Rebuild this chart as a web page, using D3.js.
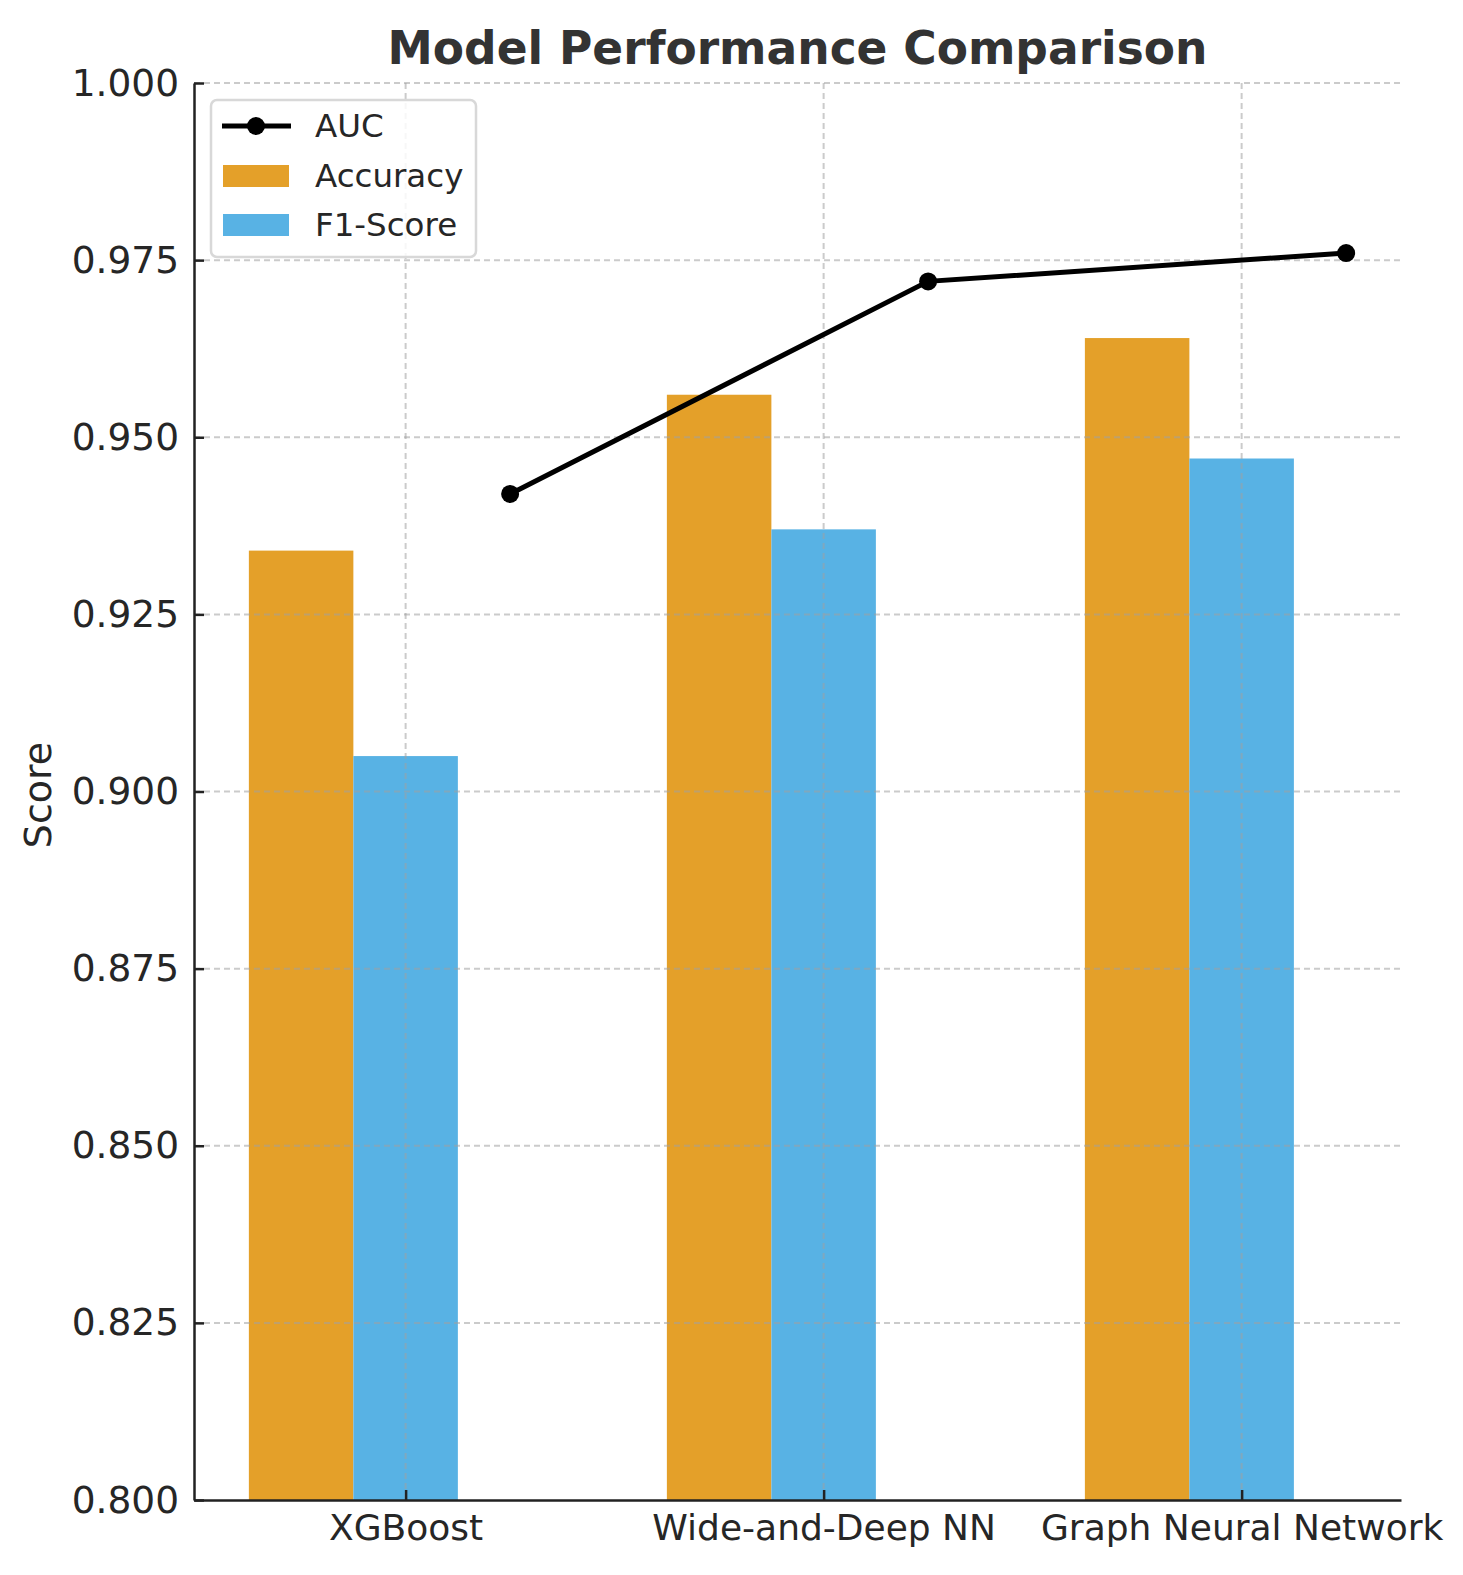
<!DOCTYPE html>
<html>
<head>
<meta charset="utf-8">
<script src="https://cdn.jsdelivr.net/npm/d3@7/dist/d3.min.js"></script>
<style>
  body { margin: 0; background: #fff; }
  svg { display: block; font-family: "DejaVu Sans", sans-serif; }
</style>
</head>
<body>
<svg id="chart" width="1463" height="1575"></svg>
<script>
const categories = ["XGBoost", "Wide-and-Deep NN", "Graph Neural Network"];
const accuracy = [0.934, 0.956, 0.964];
const f1Score = [0.905, 0.937, 0.947];
const auc = [0.942, 0.972, 0.976];
const yTicks = [0.800, 0.825, 0.850, 0.875, 0.900, 0.925, 0.950, 0.975, 1.000];
const seriesNames = ["AUC", "Accuracy", "F1-Score"];

(function () {
const colors = { acc: "#E4A029", f1: "#58B2E4", auc: "#000000" };
const svg = d3.select("#chart");
const pL = 194, pR = 1401, pT = 83, pB = 1500;
const barW = 0.25;

const x = d3.scaleLinear().domain([-0.50625, 2.38125]).range([pL, pR]);
const y = d3.scaleLinear().domain([0.8, 1.0]).range([pB, pT]);
const idx = categories.map((_, i) => i);

// bars
const gBars = svg.append("g");
gBars.selectAll("rect.acc").data(idx).join("rect").attr("class", "acc")
  .attr("x", i => x(i - barW * 1.5)).attr("width", i => x(i - barW * 0.5) - x(i - barW * 1.5))
  .attr("y", i => y(accuracy[i])).attr("height", i => y(0.8) - y(accuracy[i]))
  .attr("fill", colors.acc);
gBars.selectAll("rect.f1").data(idx).join("rect").attr("class", "f1")
  .attr("x", i => x(i - barW * 0.5)).attr("width", i => x(i + barW * 0.5) - x(i - barW * 0.5))
  .attr("y", i => y(f1Score[i])).attr("height", i => y(0.8) - y(f1Score[i]))
  .attr("fill", colors.f1);

// grid (drawn over bars, semi-transparent)
const grid = svg.append("g").attr("stroke", "#a0a0a0").attr("stroke-opacity", 0.55)
  .attr("stroke-width", 2).attr("stroke-dasharray", "6,4");
grid.selectAll("line.h").data(yTicks.slice(1)).join("line").attr("class", "h")
  .attr("x1", pL).attr("x2", pR).attr("y1", d => y(d)).attr("y2", d => y(d));
grid.selectAll("line.v").data(idx).join("line").attr("class", "v")
  .attr("x1", i => x(i)).attr("x2", i => x(i)).attr("y1", pT).attr("y2", pB);

// axes
const yAxis = d3.axisLeft(y).tickValues(yTicks).tickFormat(d3.format(".3f")).tickSizeInner(-10).tickSizeOuter(0).tickPadding(15);
const gy = svg.append("g").attr("transform", `translate(${pL},0)`).call(yAxis);
gy.select(".domain").attr("stroke", "#222").attr("stroke-width", 2.5);
gy.selectAll(".tick line").attr("stroke", "#222").attr("stroke-width", 2.5);
gy.selectAll(".tick text").attr("font-size", 37.5).attr("fill", "#262626").attr("font-family", "DejaVu Sans");

const xAxis = d3.axisBottom(x).tickValues(idx).tickFormat(i => categories[i]).tickSizeInner(-10).tickSizeOuter(0).tickPadding(14);
const gx = svg.append("g").attr("transform", `translate(0,${pB})`).call(xAxis);
gx.select(".domain").attr("stroke", "#222").attr("stroke-width", 2.5);
gx.selectAll(".tick line").attr("stroke", "#222").attr("stroke-width", 2.5);
gx.selectAll(".tick text").attr("font-size", 36).attr("fill", "#262626").attr("font-family", "DejaVu Sans");

// AUC line
const line = d3.line().x((d, i) => x(i + barW)).y(d => y(d));
svg.append("path").datum(auc).attr("d", line).attr("fill", "none")
  .attr("stroke", colors.auc).attr("stroke-width", 5);
svg.selectAll("circle.auc").data(auc).join("circle").attr("class", "auc")
  .attr("cx", (d, i) => x(i + barW)).attr("cy", d => y(d)).attr("r", 9).attr("fill", colors.auc);

// title
svg.append("text").attr("x", (pL + pR) / 2).attr("y", 64).attr("text-anchor", "middle")
  .attr("font-size", 45.5).attr("font-weight", "bold").attr("fill", "#333").text("Model Performance Comparison");

// y label
svg.append("text").attr("transform", `translate(51,795) rotate(-90)`).attr("text-anchor", "middle")
  .attr("font-size", 38).attr("fill", "#262626").text("Score");

// legend
const lg = svg.append("g");
lg.append("rect").attr("x", 211).attr("y", 100).attr("width", 265).attr("height", 157).attr("rx", 6)
  .attr("fill", "#fff").attr("fill-opacity", 0.85).attr("stroke", "#d8d8d8").attr("stroke-width", 2.5);
const rowY = [126, 176, 225];
lg.append("line").attr("x1", 222).attr("x2", 291).attr("y1", rowY[0]).attr("y2", rowY[0]).attr("stroke", "#000").attr("stroke-width", 5);
lg.append("circle").attr("cx", 256).attr("cy", rowY[0]).attr("r", 9).attr("fill", "#000");
lg.append("rect").attr("x", 223).attr("y", rowY[1] - 11).attr("width", 66).attr("height", 22).attr("fill", colors.acc);
lg.append("rect").attr("x", 223).attr("y", rowY[2] - 11).attr("width", 66).attr("height", 22).attr("fill", colors.f1);
lg.selectAll("text.lab").data(seriesNames).join("text").attr("class", "lab")
  .attr("x", 315).attr("y", (d, i) => rowY[i]).attr("dy", "0.35em")
  .attr("font-size", 32.5).attr("fill", "#262626").text(d => d);
})();
</script>
</body>
</html>
